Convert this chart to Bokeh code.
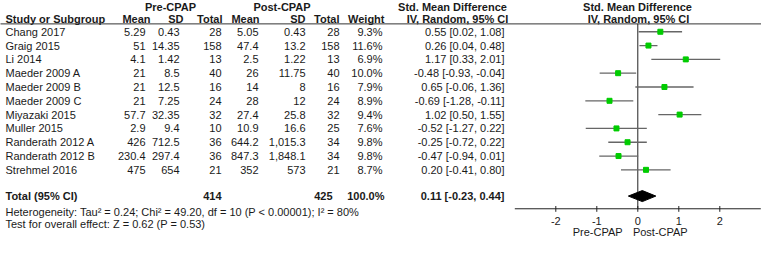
from bokeh.plotting import figure
from bokeh.models import Range1d, ColumnDataSource
from bokeh.core.properties import value
from bokeh.embed import file_html
from bokeh.resources import INLINE

# ---------------- data ----------------
studies = ["Chang 2017", "Graig 2015", "Li 2014", "Maeder 2009 A", "Maeder 2009 B",
           "Maeder 2009 C", "Miyazaki 2015", "Muller 2015", "Randerath 2012 A",
           "Randerath 2012 B", "Strehmel 2016"]
pre_mean = [5.29, 51, 4.1, 21, 21, 21, 57.7, 2.9, 426, 230.4, 475]
pre_sd = [0.43, 14.35, 1.42, 8.5, 12.5, 7.25, 32.35, 9.4, 712.5, 297.4, 654]
pre_n = [28, 158, 13, 40, 16, 24, 32, 10, 36, 36, 21]
post_mean = [5.05, 47.4, 2.5, 26, 14, 28, 27.4, 10.9, 644.2, 847.3, 352]
post_sd = [0.43, 13.2, 1.22, 11.75, 8, 12, 25.8, 16.6, 1015.3, 1848.1, 573]
post_n = [28, 158, 13, 40, 16, 24, 32, 25, 34, 34, 21]
weight = [9.3, 11.6, 6.9, 10.0, 7.9, 8.9, 9.4, 7.6, 9.8, 9.8, 8.7]
smd = [0.55, 0.26, 1.17, -0.48, 0.65, -0.69, 1.02, -0.52, -0.25, -0.47, 0.20]
ci_lo = [0.02, 0.04, 0.33, -0.93, -0.06, -1.28, 0.50, -1.27, -0.72, -0.94, -0.41]
ci_hi = [1.08, 0.48, 2.01, -0.04, 1.36, -0.11, 1.55, 0.22, 0.22, 0.01, 0.80]
total_pre_n = 414
total_post_n = 425
total_weight = 100.0
total_smd = 0.11
total_lo = -0.23
total_hi = 0.44
tick_values = [-2, -1, 0, 1, 2]
tick_labels = ["-2", "-1", "0", "1", "2"]
heterogeneity = "Heterogeneity: Tau\u00b2 = 0.24; Chi\u00b2 = 49.20, df = 10 (P < 0.00001); I\u00b2 = 80%"
overall = "Test for overall effect: Z = 0.62 (P = 0.53)"

# ---------------- layout ----------------
FONT = value("Liberation Sans")
FS = "11px"
TXT = "#1a1a1a"
rows = list(range(len(studies)))
TOTAL_ROW = 11.9
HET_ROW = 13.07
TEST_ROW = 13.95
AXIS_ROW = 12.82
TICKLAB_ROW = 13.72
FAV_ROW = 14.49
HEAD1 = -1.82
HEAD2 = -0.93
HLINE = -0.57

X0, X1 = 6, 767          # horizontal window of the layout
ZERO_X, UNIT = 643.3, 41.0

p = figure(width=761, height=237, output_backend="svg", toolbar_location=None,
           x_range=Range1d(X0, X1), y_range=Range1d(14.9, -2.264),
           x_axis_location=None, y_axis_location=None, min_border=0,
           outline_line_color=None, background_fill_color="white")
p.grid.visible = False
p.extra_x_ranges = {"smd": Range1d((X0 - ZERO_X) / UNIT, (X1 - ZERO_X) / UNIT)}


def fmt(v):
    return f"{v:,}"


def txt(x, y, t, align="right", bold=False, xr="default", color=TXT):
    kw = {}
    if xr != "default":
        kw["x_range_name"] = xr
    p.text(x=x, y=y, text=t, text_align=align, text_baseline="middle",
           text_font=FONT, text_font_size=FS, text_color=color,
           text_font_style="bold" if bold else "normal", **kw)


# headers
txt([176], [HEAD1], ["Pre-CPAP"], "center", True)
txt([287.5], [HEAD1], ["Post-CPAP"], "center", True)
txt([458], [HEAD1], ["Std. Mean Difference"], "center", True)
txt([643], [HEAD1], ["Std. Mean Difference"], "center", True)
txt([11], [HEAD2], ["Study or Subgroup"], "left", True)
txt([156, 189, 228, 265, 311, 345, 390], [HEAD2] * 7,
    ["Mean", "SD", "Total", "Mean", "SD", "Total", "Weight"], "right", True)
txt([463], [HEAD2], ["IV, Random, 95% CI"], "center", True)
txt([644], [HEAD2], ["IV, Random, 95% CI"], "center", True)
p.segment(x0=[2], x1=[777], y0=[HLINE], y1=[HLINE], line_color="#333333", line_width=1)

# table body
n = len(studies)
txt([11] * n, rows, studies, "left")
txt([151] * n, rows, [fmt(v) for v in pre_mean])
txt([185] * n, rows, [fmt(v) for v in pre_sd])
txt([227] * n, rows, [str(v) for v in pre_n])
txt([264] * n, rows, [fmt(v) for v in post_mean])
txt([311] * n, rows, [fmt(v) for v in post_sd])
txt([345] * n, rows, [str(v) for v in post_n])
txt([388] * n, rows, [f"{w:.1f}%" for w in weight])
txt([510] * n, rows, [f"{e:.2f} [{l:.2f}, {h:.2f}]" for e, l, h in zip(smd, ci_lo, ci_hi)])

# total row
txt([11], [TOTAL_ROW], ["Total (95% CI)"], "left", True)
txt([227], [TOTAL_ROW], [str(total_pre_n)], "right", True)
txt([338], [TOTAL_ROW], [str(total_post_n)], "right", True)
txt([390], [TOTAL_ROW], [f"{total_weight:.1f}%"], "right", True)
txt([510], [TOTAL_ROW], [f"{total_smd:.2f} [{total_lo:.2f}, {total_hi:.2f}]"], "right", True)
txt([11], [HET_ROW], [heterogeneity], "left")
txt([11], [TEST_ROW], [overall], "left")

# forest plot
p.segment(x0=[0], x1=[0], y0=[HLINE], y1=[AXIS_ROW], line_color="#222222",
          line_width=1, x_range_name="smd")
src = ColumnDataSource(dict(y=rows, est=smd, lo=ci_lo, hi=ci_hi))
p.segment(x0="lo", x1="hi", y0="y", y1="y", source=src, line_color="#666666",
          line_width=1.3, x_range_name="smd")
p.scatter(x="est", y="y", source=src, marker="square", size=5,
          fill_color="#00cc00", line_color="#00cc00", x_range_name="smd")
dh = 0.4
p.patch(x=[total_lo, total_smd, total_hi, total_smd],
        y=[TOTAL_ROW, TOTAL_ROW - dh, TOTAL_ROW, TOTAL_ROW + dh],
        fill_color="black", line_color="black", x_range_name="smd")

# axis
p.segment(x0=[-3], x1=[3], y0=[AXIS_ROW], y1=[AXIS_ROW], line_color="#222222",
          line_width=1, x_range_name="smd")
p.segment(x0=tick_values, x1=tick_values, y0=[AXIS_ROW - 0.2] * 5, y1=[AXIS_ROW + 0.22] * 5,
          line_color="#222222", line_width=1, x_range_name="smd")
txt(tick_values, [TICKLAB_ROW] * 5, tick_labels, "center", xr="smd")
txt([-0.37], [FAV_ROW], ["Pre-CPAP"], "right", xr="smd")
txt([-0.12], [FAV_ROW], ["Post-CPAP"], "left", xr="smd")

open("out.html", "w").write(file_html(p, INLINE))
